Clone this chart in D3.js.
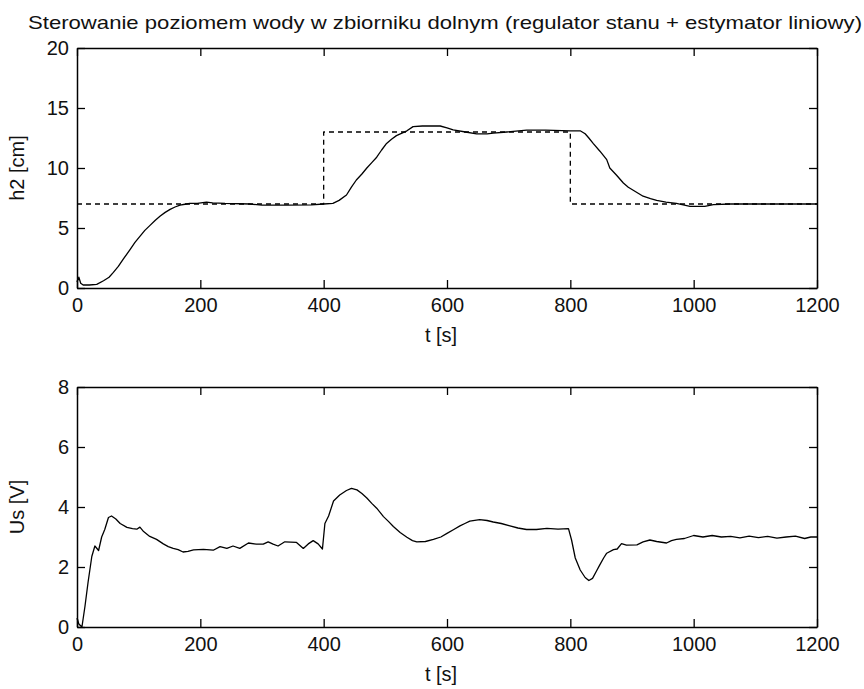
<!DOCTYPE html>
<html>
<head>
<meta charset="utf-8">
<script src="https://cdn.jsdelivr.net/npm/d3@7"></script>
<style>
  body { margin: 0; background: #fff; }
  svg { display: block; font-family: "Liberation Sans", Arial, sans-serif; }
  .tick text { fill: #111; }
</style>
</head>
<body>
<svg id="chart" width="864" height="689"></svg>
<script>
// chart values
var titleText = "Sterowanie poziomem wody w zbiorniku dolnym (regulator stanu + estymator liniowy)";
var xTicks = [0, 200, 400, 600, 800, 1000, 1200];
var h2Ticks = [0, 5, 10, 15, 20];
var usTicks = [0, 2, 4, 6, 8];

// setpoint (dashed)
var setTime = [0, 400, 400, 800, 800, 1200];
var setValue = [7, 7, 13, 13, 7, 7];

// measured level h2 [cm]
var h2Time = [0, 3, 6, 10, 20, 32, 43, 52, 59, 67, 75, 86, 94, 102, 110, 118, 127, 135, 143, 151,
  159, 167, 175, 183, 195, 210, 220, 240, 280, 300, 340, 380, 400, 415, 425, 437, 445, 453, 462, 470,
  478, 486, 494, 502, 510, 518, 527, 535, 545, 560, 589, 600, 610, 630, 648, 665, 675, 697, 729, 760,
  800, 816, 824, 830, 837, 848, 859, 864, 875, 886, 894, 902, 910, 918, 930, 940, 955, 972, 985, 994,
  1018, 1032, 1060, 1200];
var h2Value = [0.5, 0.9, 0.4, 0.25, 0.25, 0.3, 0.6, 0.9, 1.3, 1.8, 2.4, 3.2, 3.8, 4.3, 4.8, 5.2, 5.65, 6.0, 6.3, 6.55,
  6.75, 6.9, 6.98, 7.05, 7.05, 7.15, 7.1, 7.05, 7.0, 6.9, 6.9, 6.92, 7.0, 7.05, 7.3, 7.75, 8.4, 9.0, 9.5, 10.0,
  10.45, 10.9, 11.5, 12.05, 12.4, 12.7, 12.9, 13.1, 13.45, 13.5, 13.5, 13.35, 13.17, 13.0, 12.85, 12.85, 12.9, 13.0, 13.15, 13.15,
  13.1, 13.1, 12.85, 12.5, 12.05, 11.4, 10.7, 10.0, 9.4, 8.75, 8.4, 8.15, 7.9, 7.65, 7.45, 7.3, 7.15, 7.05, 6.9, 6.8,
  6.8, 6.95, 7.0, 7.0];

// control voltage Us [V]
var usTime = [0, 3, 8, 13, 18, 24, 29, 35, 40, 45, 51, 56, 63, 70, 81, 90, 97, 102, 108, 118,
  129, 140, 148, 156, 164, 172, 180, 189, 205, 221, 232, 243, 253, 264, 278, 291, 302, 310, 318, 326,
  337, 356, 367, 375, 383, 391, 398, 402, 408, 416, 426, 437, 445, 454, 462, 470, 478, 486, 497, 505,
  513, 524, 535, 544, 551, 565, 578, 590, 600, 611, 621, 629, 637, 653, 665, 675, 688, 702, 715, 729,
  745, 762, 780, 797, 802, 808, 816, 824, 830, 836, 842, 848, 854, 859, 870, 876, 883, 891, 908, 918,
  929, 940, 956, 964, 972, 985, 1000, 1015, 1030, 1045, 1060, 1075, 1090, 1105, 1120, 1135, 1150, 1165, 1180, 1190, 1200];
var usValue = [0.3, 0.1, 0.0, 0.7, 1.5, 2.35, 2.7, 2.55, 3.0, 3.25, 3.65, 3.7, 3.6, 3.45, 3.32, 3.28, 3.26, 3.33, 3.18, 3.02,
  2.92, 2.77, 2.68, 2.62, 2.58, 2.5, 2.52, 2.57, 2.59, 2.56, 2.68, 2.62, 2.7, 2.62, 2.8, 2.76, 2.76, 2.84, 2.76, 2.7,
  2.84, 2.82, 2.62, 2.77, 2.88, 2.77, 2.6, 3.45, 3.7, 4.2, 4.4, 4.55, 4.62, 4.57, 4.45, 4.3, 4.12, 3.96, 3.68, 3.52,
  3.35, 3.15, 2.99, 2.88, 2.84, 2.85, 2.92, 3.0, 3.12, 3.25, 3.37, 3.45, 3.53, 3.58, 3.55, 3.5, 3.45, 3.37, 3.3, 3.25,
  3.25, 3.29, 3.26, 3.28, 2.9, 2.3, 1.9, 1.65, 1.55, 1.62, 1.85, 2.08, 2.3, 2.46, 2.58, 2.6, 2.78, 2.73, 2.74, 2.84,
  2.9, 2.85, 2.8, 2.88, 2.92, 2.95, 3.05, 3.0, 3.05, 3.0, 3.02, 2.97, 3.03, 2.98, 3.02, 2.96, 3.0, 3.03, 2.95, 3.0, 3.0];

var svg = d3.select("#chart");
var left = 77, right = 817, tickLen = 8;
var fontSize = 20;

svg.append("rect").attr("width", 864).attr("height", 689).attr("fill", "#fff");

svg.append("text")
  .attr("x", 445).attr("y", 29)
  .attr("text-anchor", "middle")
  .attr("font-size", 19)
  .attr("textLength", 834)
  .attr("lengthAdjust", "spacingAndGlyphs")
  .attr("fill", "#111")
  .text(titleText);

function drawPanel(top, bottom, yMax, yTicks, yLabel, series) {
  var x = d3.scaleLinear().domain([0, 1200]).range([left, right]);
  var y = d3.scaleLinear().domain([0, yMax]).range([bottom, top]);
  var g = svg.append("g");

  // axes on four sides, ticks pointing inward (matlab style)
  var axB = d3.axisBottom(x).tickValues(xTicks).tickFormat(d3.format("d"))
    .tickSizeInner(-tickLen).tickSizeOuter(0);
  var axT = d3.axisTop(x).tickValues(xTicks).tickSizeInner(-tickLen).tickSizeOuter(0).tickFormat("");
  var axL = d3.axisLeft(y).tickValues(yTicks).tickFormat(d3.format("d"))
    .tickSizeInner(-tickLen).tickSizeOuter(0);
  var axR = d3.axisRight(y).tickValues(yTicks).tickSizeInner(-tickLen).tickSizeOuter(0).tickFormat("");

  var gb = g.append("g").attr("transform", "translate(0," + bottom + ")").call(axB);
  var gt = g.append("g").attr("transform", "translate(0," + top + ")").call(axT);
  var gl = g.append("g").attr("transform", "translate(" + left + ",0)").call(axL);
  var gr = g.append("g").attr("transform", "translate(" + right + ",0)").call(axR);

  [gb, gt, gl, gr].forEach(function (a) {
    a.attr("font-family", null).attr("font-size", fontSize);
    a.select(".domain").attr("stroke", "#000").attr("stroke-width", 1.5);
    a.selectAll(".tick line").attr("stroke", "#000").attr("stroke-width", 1.3);
  });
  gb.selectAll(".tick text").attr("dy", "0.71em").attr("y", 10);
  gl.selectAll(".tick text").attr("x", -8);

  series.forEach(function (s) {
    var line = d3.line()
      .x(function (d, i) { return x(s.t[i]); })
      .y(function (d) { return y(d); });
    g.append("path")
      .attr("d", line(s.v))
      .attr("fill", "none")
      .attr("stroke", "#000")
      .attr("stroke-width", 1.3)
      .attr("stroke-linejoin", "round")
      .attr("stroke-dasharray", s.dash || null);
  });

  // axis titles
  g.append("text")
    .attr("x", (left + right) / 2 - 6).attr("y", bottom + 54)
    .attr("text-anchor", "middle")
    .attr("font-size", fontSize)
    .attr("fill", "#111")
    .text("t [s]");
  g.append("text")
    .attr("transform", "translate(24," + ((top + bottom) / 2) + ") rotate(-90)")
    .attr("text-anchor", "middle")
    .attr("font-size", fontSize)
    .attr("fill", "#111")
    .text(yLabel);
}

drawPanel(48, 288, 20, h2Ticks, "h2 [cm]", [
  { t: setTime, v: setValue, dash: "5,4" },
  { t: h2Time, v: h2Value }
]);

drawPanel(387, 627, 8, usTicks, "Us [V]", [
  { t: usTime, v: usValue }
]);
</script>
</body>
</html>
